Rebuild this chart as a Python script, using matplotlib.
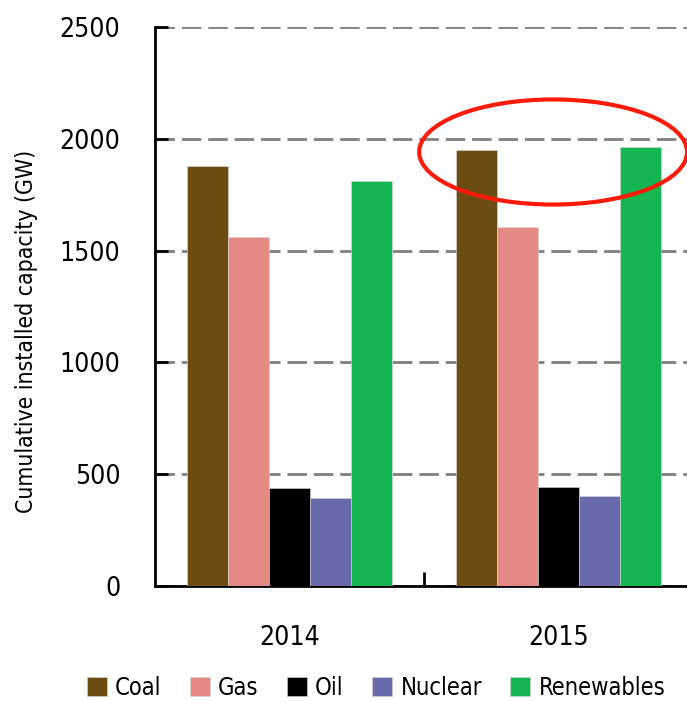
import matplotlib
matplotlib.use("Agg")
import matplotlib.pyplot as plt
from matplotlib.patches import Ellipse
import numpy as np

years = ['2014', '2015']
sources = ['Coal', 'Gas', 'Oil', 'Nuclear', 'Renewables']
coal = [1880, 1950]
gas = [1562, 1606]
oil = [438, 443]
nuclear = [394, 403]
renewables = [1812, 1963]
colors = ['#6b4d12', '#e58986', '#000000', '#686aab', '#13b650']

plt.rcParams['font.family'] = ['DejaVu Sans']
plt.rcParams['font.stretch'] = 'condensed'

fig = plt.figure(figsize=(6.87, 7.01), dpi=100)
ax = fig.add_axes([155/687, 115/701, 538/687, 559/701])

x = np.arange(len(years))
w = 0.152
series = [coal, gas, oil, nuclear, renewables]
for i, (name, vals) in enumerate(zip(sources, series)):
    ax.bar(x + (i - 2) * w, vals, w, color=colors[i], label=name,
           edgecolor='#d8d8d8', linewidth=0.4, zorder=3)

ax.set_xlim(-0.5, 1.5)
ax.set_ylim(0, 2500)
ax.set_yticks([0, 500, 1000, 1500, 2000, 2500])
ax.yaxis.grid(True, color='#808080', linestyle=(0, (7, 2.5)), linewidth=2)
ax.set_axisbelow(True)
ax.tick_params(axis='y', direction='in', length=9, width=2, labelsize=19, pad=25)

ax.set_xticks(x)
ax.set_xticklabels(years)
ax.tick_params(axis='x', which='major', length=0, labelsize=19, pad=28)
ax.set_xticks([0.5], minor=True)
ax.tick_params(axis='x', which='minor', direction='in', length=10, width=2)

for s in ['top', 'right']:
    ax.spines[s].set_visible(False)
for s in ['left', 'bottom']:
    ax.spines[s].set_linewidth(2)

fig.text(27/687, 1 - 331/701, 'Cumulative installed capacity (GW)', rotation=90,
         ha='center', va='center', fontsize=16.5)

ell = Ellipse((0.98, 1941), 0.996, 470, fill=False, edgecolor='#ff1a0a',
              linewidth=3, clip_on=False, zorder=5)
ax.add_patch(ell)

fig.legend(loc='center', bbox_to_anchor=(376/687, 1 - 688/701), ncol=5, frameon=False,
           fontsize=17, handlelength=0.85, handleheight=0.85, handletextpad=0.35,
           columnspacing=1.2, borderaxespad=0, borderpad=0)

plt.savefig('out.png', dpi=100)
